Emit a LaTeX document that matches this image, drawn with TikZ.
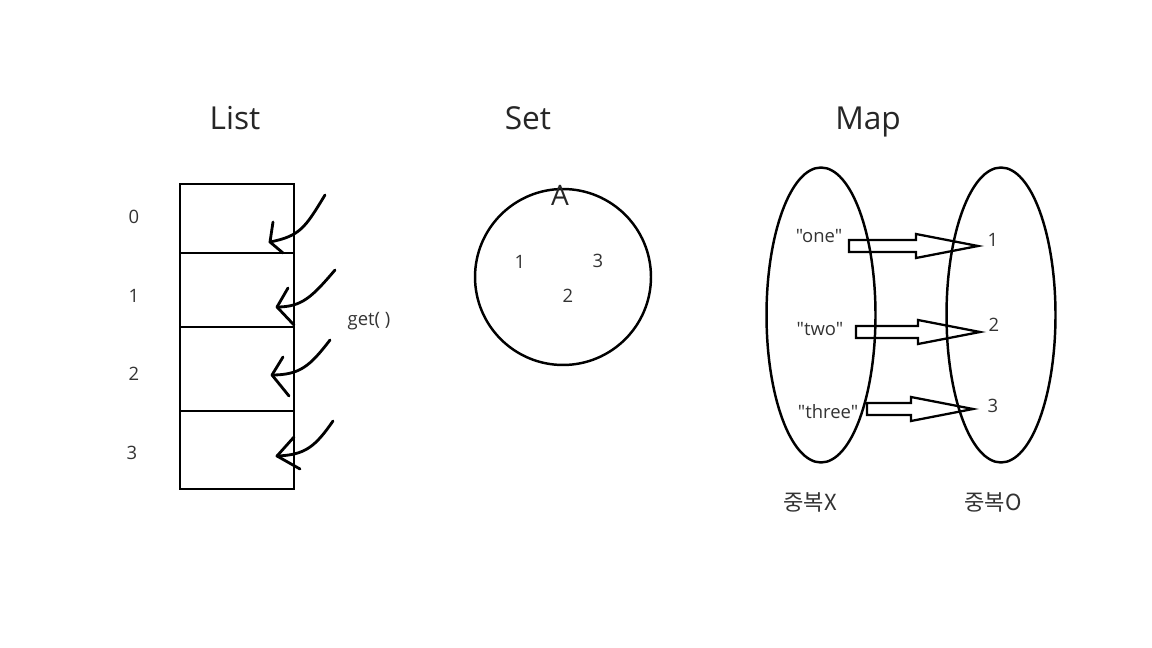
\documentclass[tikz,border=0pt]{standalone}
\usepackage{fontspec}
\setmainfont{Open Sans}[Ligatures=TeXOff]
\newfontfamily\krfont{Noto Sans CJK KR}
\usetikzlibrary{shapes.geometric, calc}

\newcommand{\fatarrow}[2]{%
    \draw[fatarr] ($(#1)+(0,6)$) -- ($(#2)+(-62,6)$) -- ($(#2)+(-62,12)$) -- (#2)
        -- ($(#2)+(-62,-12)$) -- ($(#2)+(-62,-6)$) -- ($(#1)+(0,-6)$) -- cycle;}

\begin{document}
\begin{tikzpicture}[
        x=0.02cm, y=-0.02cm,
        title/.style={
            anchor=base,
            font=\fontsize{18}{22}\selectfont,
            text=black!85
        },
        lbl/.style={
            font=\fontsize{10.5}{13}\selectfont,
            text=black!80
        },
        cell/.style={
            rectangle,
            draw,
            line width=0.6pt,
            minimum width=2.28cm,
            inner sep=0pt,
            outer sep=0pt
        },
        hand/.style={
            line width=1.6pt,
            line cap=round,
            line join=round
        },
        setring/.style={
            circle,
            draw,
            line width=1.4pt,
            minimum size=3.52cm,
            inner sep=0pt
        },
        mapring/.style={
            ellipse,
            draw,
            line width=1.4pt,
            minimum width=2.18cm,
            minimum height=5.9cm,
            inner sep=0pt
        },
        fatarr/.style={
            draw,
            line width=1.3pt,
            line join=miter
        }
    ]
        \useasboundingbox (0,0) rectangle (1152,648);

        % List
        \node[title] (tlist) at (235,130) {List};
        \node[cell, minimum height=1.38cm] (cell0) at (237,218.5) {};
        \node[cell, minimum height=1.48cm] (cell1) at (237,290) {};
        \node[cell, minimum height=1.68cm] (cell2) at (237,369) {};
        \node[cell, minimum height=1.56cm] (cell3) at (237,450) {};
        \node[lbl] (i0) at (134,217) {0};
        \node[lbl] (i1) at (134,296) {1};
        \node[lbl] (i2) at (134,374) {2};
        \node[lbl] (i3) at (132,453) {3};
        \node[lbl] (getm) at (369,321) {get( )};

        \coordinate (t0) at (270,242);
        \coordinate (t1) at (277,307);
        \coordinate (t2) at (272,375);
        \coordinate (t3) at (277,456);
        \draw[hand] (325,195) .. controls (305,228) and (300,236) .. (t0);
        \draw[hand] (273,222) -- (t0) -- (283,253);
        \draw[hand] (335,270) .. controls (312,297) and (302,307) .. (t1);
        \draw[hand] (288,288) -- (t1) -- (294,325);
        \draw[hand] (330,340) .. controls (310,366) and (300,375) .. (t2);
        \draw[hand] (283,357) -- (t2) -- (289,396);
        \draw[hand] (333,421) .. controls (315,447) and (305,455) .. (t3);
        \draw[hand] (294,437) -- (t3) -- (300,469);

        % Set
        \node[title] (tset) at (528,130) {Set};
        \node[setring] (setA) at (563,277) {};
        \node[font=\fontsize{16}{19}\selectfont, text=black!85] (nameA) at (560,195) {A};
        \node[lbl] (e1) at (520,262) {1};
        \node[lbl] (e3) at (598,261) {3};
        \node[lbl] (e2) at (568,296) {2};

        % Map
        \node[title] (tmap) at (868,130) {Map};
        \node[mapring] (keys) at (821,315) {};
        \node[mapring] (vals) at (1001,315) {};
        \node[lbl] (k1) at (819,236) {"one"};
        \node[lbl] (k2) at (820,329) {"two"};
        \node[lbl] (k3) at (828,412) {"three"};
        \node[lbl] (v1) at (993,240) {1};
        \node[lbl] (v2) at (994,325) {2};
        \node[lbl] (v3) at (993,406) {3};

        \coordinate (a1s) at (849,246);
        \coordinate (a1e) at (978,246);
        \coordinate (a2s) at (856,332);
        \coordinate (a2e) at (980,332);
        \coordinate (a3s) at (867,409);
        \coordinate (a3e) at (973,409);
        \fatarrow{a1s}{a1e}
        \fatarrow{a2s}{a2e}
        \fatarrow{a3s}{a3e}

        \node[lbl, font=\krfont\fontsize{12.6}{15}\selectfont] (dupx) at (810,502) {중복X};
        \node[lbl, font=\krfont\fontsize{12.6}{15}\selectfont] (dupo) at (993,502) {중복O};
    \end{tikzpicture}
\end{document}
